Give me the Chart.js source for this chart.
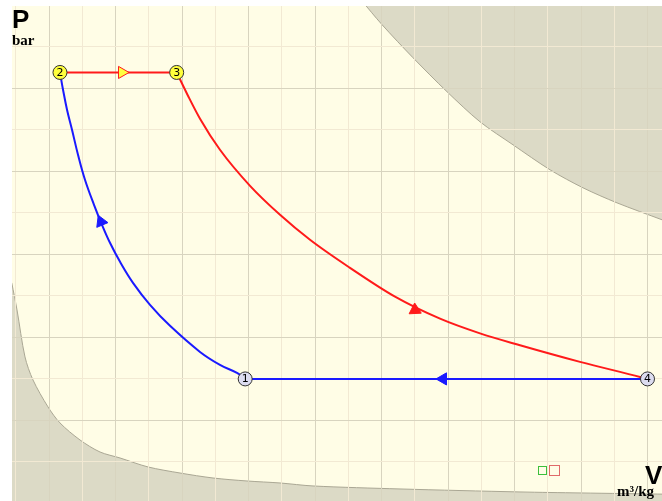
<!DOCTYPE html>
<html>
<head>
<meta charset="utf-8">
<script src="https://cdn.jsdelivr.net/npm/chart.js@4.4.1/dist/chart.umd.min.js"></script>
<style>
  html, body { margin: 0; padding: 0; background: #ffffff; overflow: hidden; }
  canvas { display: block; }
</style>
</head>
<body>
<canvas id="pvChart" width="662" height="501"></canvas>
<script>
// cycle states 1..4 (V in grid units, P in grid units)
const stateLabels = ["1", "2", "3", "4"];
const stateV = [3.95, 1.165, 2.92, 10.0];
const stateP = [1.5, 5.19, 5.19, 1.5];

// 1 -> 2 compression curve
const compV = [3.95, 3.827, 3.571, 3.271, 2.82, 2.519, 2.263, 2.068, 1.917, 1.797, 1.677, 1.541, 1.436, 1.346, 1.271, 1.211, 1.165];
const compP = [1.5, 1.572, 1.669, 1.825, 2.139, 2.392, 2.657, 2.91, 3.139, 3.355, 3.596, 3.898, 4.199, 4.5, 4.741, 4.982, 5.19];

// 3 -> 4 expansion curve
const expV = [2.92, 3.09, 3.271, 3.571, 4.023, 4.474, 4.925, 5.526, 6.203, 6.88, 7.481, 8.083, 8.985, 9.887, 10.0];
const expP = [5.19, 4.91, 4.633, 4.259, 3.825, 3.476, 3.175, 2.837, 2.49, 2.225, 2.048, 1.905, 1.705, 1.524, 1.5];

// forbidden zones (upper right / lower left)
const upperV = [5.69, 6.008, 6.474, 6.985, 7.481, 7.977, 8.534, 9.03, 9.541, 10.218, 10.3];
const upperP = [6.066, 5.765, 5.367, 4.958, 4.596, 4.319, 4.018, 3.801, 3.62, 3.416, 3.39];
const lowerV = [0.44, 0.519, 0.639, 0.759, 0.985, 1.165, 1.466, 1.767, 2.068, 2.489, 2.97, 3.466, 3.977, 4.474, 4.97, 6.278, 8.083, 8.985, 10.3];
const lowerP = [2.657, 2.331, 1.765, 1.488, 1.163, 0.97, 0.765, 0.62, 0.548, 0.44, 0.367, 0.307, 0.271, 0.247, 0.211, 0.175, 0.139, 0.127, 0.112];

// direction arrows
const arrowV = [2.098, 6.504, 1.782, 6.925];
const arrowP = [5.19, 2.33, 3.392, 1.5];
const arrowAngle = [90, 117, -23, 270];
const arrowFill = ["#ffff40", "#ff1a1a", "#1a1aff", "#1a1aff"];
const arrowEdge = ["#ff1a1a", "#ff1a1a", "#1a1aff", "#1a1aff"];

const CREAM = "#fffde6";
const ZONE = "#dcdac6";
const GRID_MAJOR = "#d8d4bf";
const GRID_MINOR = "#f2e9d3";
const RED = "#ff1a1a";
const BLUE = "#1a1aff";

function toXY(vs, ps) {
    return vs.map((v, i) => ({ x: v, y: ps[i] }));
}

function gridColor(ctx) {
    const v = ctx.tick.value;
    return Math.abs(v - Math.round(v)) < 1e-6 ? GRID_MAJOR : GRID_MINOR;
}

const areaBackground = {
    id: "areaBackground",
    beforeDraw(chart) {
        const { ctx, chartArea: a } = chart;
        ctx.save();
        ctx.fillStyle = CREAM;
        ctx.fillRect(a.left, a.top, a.right - a.left, a.bottom - a.top);
        ctx.restore();
    }
};

// grid has to show through the grey zones, so paint it again once they are done
const gridOverZones = {
    id: "gridOverZones",
    beforeDatasetsDraw(chart) {
        chart.$gridRedrawn = false;
    },
    beforeDatasetDraw(chart, args) {
        if (chart.$gridRedrawn || args.meta._dataset.zone) return;
        chart.scales.x.drawGrid(chart.chartArea);
        chart.scales.y.drawGrid(chart.chartArea);
        chart.$gridRedrawn = true;
    }
};

const stateNumbers = {
    id: "stateNumbers",
    afterDatasetsDraw(chart) {
        const ctx = chart.ctx;
        const meta = chart.getDatasetMeta(0);
        ctx.save();
        ctx.font = "11px 'DejaVu Sans', sans-serif";
        ctx.fillStyle = "#000000";
        ctx.textAlign = "center";
        ctx.textBaseline = "middle";
        meta.data.forEach((pt, i) => ctx.fillText(stateLabels[i], pt.x, pt.y + 0.5));
        ctx.restore();
    }
};

const axisMarks = {
    id: "axisMarks",
    afterDraw(chart) {
        const ctx = chart.ctx;
        const a = chart.chartArea;
        ctx.save();
        ctx.fillStyle = "#000000";
        ctx.textBaseline = "alphabetic";
        ctx.textAlign = "left";
        ctx.font = "bold 26px 'Liberation Sans', Arial, sans-serif";
        ctx.fillText("P", a.left, a.top + 22);
        ctx.font = "bold 15px 'Liberation Serif', serif";
        ctx.fillText("bar", a.left, a.top + 39);
        ctx.font = "bold 26px 'Liberation Sans', Arial, sans-serif";
        ctx.fillText("V", a.right - 17, a.bottom - 17);
        ctx.font = "bold 15px 'Liberation Serif', serif";
        ctx.fillText("m\u00b3/kg", a.right - 45, a.bottom - 5);

        // small toggle boxes
        ctx.lineWidth = 1;
        ctx.strokeStyle = "#3cbf3c";
        ctx.strokeRect(538.5, 466.5, 8, 8);
        ctx.strokeStyle = "#e06a6a";
        ctx.strokeRect(549.5, 465.5, 10, 10);
        ctx.restore();
    }
};

new Chart(document.getElementById("pvChart"), {
    type: "scatter",
    data: {
        datasets: [
            {
                data: toXY(stateV, stateP),
                pointRadius: 7,
                pointBackgroundColor: ["#dcdcf0", "#ffff3c", "#ffff3c", "#dcdcf0"],
                pointBorderColor: "#333333",
                pointBorderWidth: 1,
                showLine: false,
                order: 0
            },
            {
                data: toXY(arrowV, arrowP),
                pointStyle: "triangle",
                pointRadius: 7,
                rotation: arrowAngle,
                pointBackgroundColor: arrowFill,
                pointBorderColor: arrowEdge,
                pointBorderWidth: 1,
                showLine: false,
                order: 1
            },
            {
                data: toXY([stateV[1], stateV[2]], [stateP[1], stateP[2]]),
                borderColor: RED,
                borderWidth: 2,
                pointRadius: 0,
                showLine: true,
                order: 2
            },
            {
                data: toXY(expV, expP),
                borderColor: RED,
                borderWidth: 2,
                pointRadius: 0,
                showLine: true,
                cubicInterpolationMode: "monotone",
                order: 3
            },
            {
                data: toXY([stateV[3], stateV[0]], [stateP[3], stateP[0]]),
                borderColor: BLUE,
                borderWidth: 2,
                pointRadius: 0,
                showLine: true,
                order: 4
            },
            {
                data: toXY(compV, compP),
                borderColor: BLUE,
                borderWidth: 2,
                pointRadius: 0,
                showLine: true,
                tension: 0.4,
                order: 5
            },
            {
                zone: true,
                data: toXY(upperV, upperP),
                borderColor: "#aaa794",
                backgroundColor: ZONE,
                borderWidth: 1,
                pointRadius: 0,
                showLine: true,
                tension: 0.3,
                fill: "end",
                order: 10
            },
            {
                zone: true,
                data: toXY(lowerV, lowerP),
                borderColor: "#aaa794",
                backgroundColor: ZONE,
                borderWidth: 1,
                pointRadius: 0,
                showLine: true,
                tension: 0.3,
                fill: "start",
                order: 11
            }
        ]
    },
    options: {
        responsive: false,
        animation: false,
        devicePixelRatio: 1,
        layout: { autoPadding: false, padding: { left: 12, top: 6, right: 0, bottom: 0 } },
        plugins: {
            legend: { display: false },
            tooltip: { enabled: false }
        },
        scales: {
            x: {
                type: "linear",
                min: 0.4436,
                max: 10.218,
                border: { display: false },
                ticks: { display: false, stepSize: 0.5, includeBounds: false },
                grid: { color: gridColor, drawTicks: false, lineWidth: 1 }
            },
            y: {
                type: "linear",
                min: 0.03,
                max: 5.99,
                border: { display: false },
                ticks: { display: false, stepSize: 0.5, includeBounds: false },
                grid: { color: gridColor, drawTicks: false, lineWidth: 1 }
            }
        }
    },
    plugins: [areaBackground, gridOverZones, stateNumbers, axisMarks]
});
</script>
</body>
</html>
